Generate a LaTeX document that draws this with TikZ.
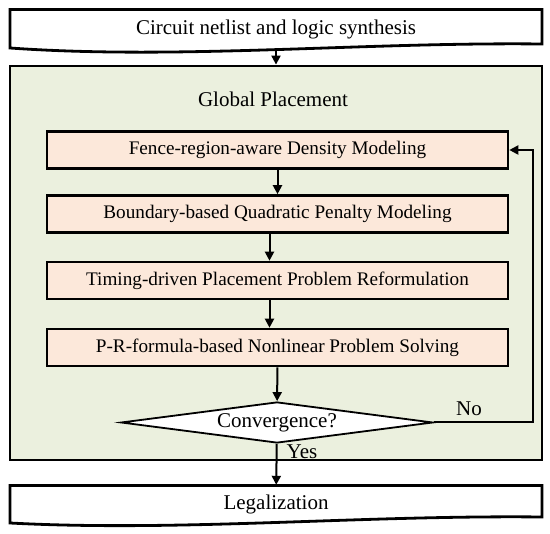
\documentclass[tikz,border=0pt]{standalone}
\usepackage{fontspec}
\setmainfont{Liberation Serif}
\usetikzlibrary{arrows.meta,positioning,calc,shapes.geometric}

\definecolor{framegreen}{RGB}{235,240,222}
\definecolor{stagefill}{RGB}{252,232,218}

\begin{document}
\begin{tikzpicture}[
    x=1pt, y=-1pt,
    txt/.style={font=\fontsize{21}{24}\selectfont},
    docbox/.style={txt, minimum width=532pt, minimum height=38pt, inner sep=0pt},
    stage/.style={font=\fontsize{19.2}{22}\selectfont, draw, line width=2.6pt, fill=stagefill, minimum width=461pt, minimum height=37pt, inner sep=0pt},
    decide/.style={txt, diamond, draw, line width=1.8pt, fill=white, aspect=7.6, minimum width=312pt, minimum height=41pt, inner sep=0pt},
    arrow/.style={-{Triangle[length=9pt,width=9pt]}, line width=2pt},
    label/.style={txt}
]
    \useasboundingbox (0,0) rectangle (550,534);

    % Global placement frame
    \node[draw, line width=2.8pt, fill=framegreen, minimum width=532pt, minimum height=394pt, inner sep=0pt] (frame) at (276,263) {};
    \node[txt] (title) at (273,99) {Global Placement};

    % Input
    \draw[line width=2.8pt] (10,48) -- (10,9.5) -- (542,9.5) -- (542,44)
        .. controls (360,42) and (180,60) .. (10,48) -- cycle;
    \node[docbox] (netlist) at (276,29) {Circuit netlist and logic synthesis};

    % Steps
    \node[stage] (density) at (277.5,150) {Fence-region-aware Density Modeling};
    \node[stage] (penalty) at (277.5,214) {Boundary-based Quadratic Penalty Modeling};
    \node[stage] (timing) at (277.5,280.5) {Timing-driven Placement Problem Reformulation};
    \node[stage] (solve) at (277.5,347.5) {P-R-formula-based Nonlinear Problem Solving};

    % Decision
    \node[decide] (conv) at (277,422.5) {Convergence?};

    % Output
    \draw[line width=2.8pt] (10,523) -- (10,485.5) -- (542,485.5) -- (542,517)
        .. controls (360,515) and (180,532) .. (10,523) -- cycle;
    \node[docbox] (legal) at (276,504) {Legalization};

    % Arrows
    \draw[arrow] (netlist.south) -- (frame.north);
    \draw[arrow] (density) -- (penalty);
    \draw[arrow] ([xshift=-8pt]penalty.south) -- ([xshift=-8pt]timing.north);
    \draw[arrow] ([xshift=-8pt]timing.south) -- ([xshift=-8pt]solve.north);
    \draw[arrow] (solve) -- (conv);
    \draw[arrow] (conv) -- (legal);
    \draw[arrow] (conv.east) -- ++(99,0) |- (density.east);

    % Labels on arrows
    \node[label] (no) at (469,409) {No};
    \node[label] (yes) at (302,452) {Yes};
\end{tikzpicture}
\end{document}
